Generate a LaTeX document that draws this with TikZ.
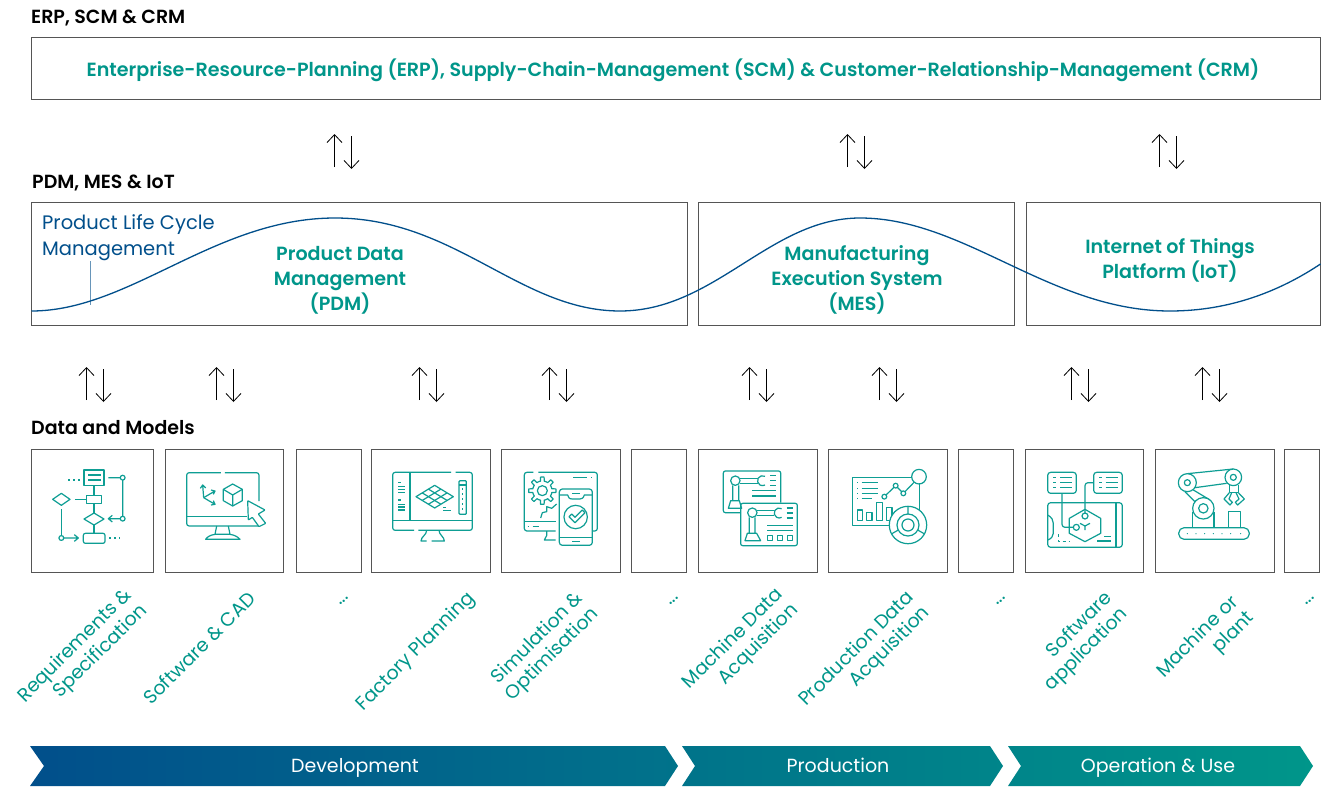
\documentclass[tikz,border=0pt]{standalone}
\usepackage{fontspec}
\setmainfont{Poppins}[BoldFont={Poppins SemiBold}]
\usetikzlibrary{arrows.meta}
\definecolor{tealc}{HTML}{00968A}
\definecolor{iconc}{HTML}{0E9E94}
\definecolor{bluec}{HTML}{014F8B}
\definecolor{framec}{HTML}{555555}
\tikzset{
 frame/.style={draw=framec,line width=0.8pt,fill=white},
 heading/.style={anchor=base west,font=\fontsize{19}{20}\selectfont\bfseries,text=black,inner sep=0pt},
 maintitle/.style={font=\fontsize{19.1}{25}\selectfont\bfseries,text=tealc,align=center,inner sep=0pt},
 plmtext/.style={anchor=north west,font=\fontsize{19.5}{26}\selectfont,text=bluec,align=left,inner sep=0pt},
 tilted/.style={font=\fontsize{19}{22}\selectfont,text=tealc,align=right,rotate=45,inner sep=0pt},
 barlabel/.style={anchor=base,font=\fontsize{19}{22}\selectfont,text=white,inner sep=0pt},
 flow/.style={draw=black,line width=0.8pt,-{Straight Barb[length=8pt,width=15pt,line width=0.8pt]}},
 ic/.style={draw=iconc,line width=1.2pt,line join=round},
 icd/.style={ic,dash pattern=on 1.5pt off 3.5pt},
 icon/.style={shift={#1},x=0.33333pt,y=-0.33333pt},
}
\begin{document}
\begin{tikzpicture}[x=1pt,y=-1pt]
\useasboundingbox (0,0) rectangle (1334,790);
% headings
\node[heading] (h1) at (31,23.5) {ERP, SCM \& CRM};
\node[heading] (h2) at (32,188.5) {PDM, MES \& IoT};
\node[heading] (h3) at (31,434.5) {Data and Models};
% top box
\draw[frame] (31.5,37) rectangle (1320.5,99);
\node[maintitle] (erp) at (673,70) {Enterprise-Resource-Planning (ERP), Supply-Chain-Management (SCM) \& Customer-Relationship-Management (CRM)};
% mid boxes
\draw[frame] (31.5,202.5) rectangle (687.5,325);
\draw[frame] (698.5,202.5) rectangle (1014,325);
\draw[frame] (1026,202.5) rectangle (1320.5,325);
% curve
\coordinate (tick) at (90.5,304.5);
\coordinate (ticktop) at (90.5,261);
\draw[draw=bluec!60,line width=1pt] (ticktop) -- (tick);
\draw[draw=bluec,line width=1.3pt] (31.5,311) .. controls (130,311) and (215,218) .. (335,218)
 .. controls (455,218) and (520,311) .. (620,311)
 .. controls (715,311) and (770,218) .. (860,218)
 .. controls (965,218) and (1050,311) .. (1170,311)
 .. controls (1230,311) and (1280,291) .. (1320.5,264);
\node[plmtext] (plm) at (42,214) {Product Life Cycle\\Management};
\node[maintitle] (pdm) at (340,280) {Product Data\\Management\\(PDM)};
\node[maintitle] (mes) at (857,280) {Manufacturing\\Execution System\\(MES)};
\node[maintitle] (iot) at (1170,260) {Internet of Things\\Platform (IoT)};
% double arrows
\foreach \n/\c/\t in {a/343/134,b/856/134,c/1168/134,d/95/367,e/225/367,f/428/367,g/558/367,h/758/367,i/888/367,j/1080/367,k/1211/367}{
 \pgfmathsetmacro\xu{\c-8.5}\pgfmathsetmacro\xd{\c+8.5}
 \pgfmathsetmacro\ta{\t+33}\pgfmathsetmacro\tb{\t+2}\pgfmathsetmacro\tc{\t+35}
 \coordinate (up\n s) at (\xu,\ta); \coordinate (up\n e) at (\xu,\t);
 \coordinate (dn\n s) at (\xd,\tb); \coordinate (dn\n e) at (\xd,\tc);
 \draw[flow] (up\n s) -- (up\n e);
 \draw[flow] (dn\n s) -- (dn\n e);
}
% data boxes
\foreach \a/\b in {31.3/153.5,165.7/283.5,296/361,371.3/490,501.7/620,631.7/686.7,698.3/817,828.3/947,958.7/1013.7,1025.3/1143.5,1155.3/1274,1284.3/1319.5}
 \draw[frame] (\a,449.3) rectangle (\b,572.7);
% ICON 1
\begin{scope}[icon={(20,440)}]
\draw[ic] (192,90) rectangle (252,136);
\draw[ic] (205,105)--(243,105) (205,120)--(243,120) (222,136)--(222,167);
\draw[icd] (145,120)--(182,120) (268,294)--(300,294);
\draw[ic] (200,167) rectangle (245,190);
\draw[ic] (165,178)--(200,178);
\draw[ic] (98,178)--(124,160)--(150,178)--(124,196)--cycle;
\draw[ic] (124,208)--(124,285);
\draw[ic] (124,294) circle[radius=2.4pt];
\draw[ic] (132,294)--(175,294) (163,284)--(175,294)--(163,304);
\draw[ic,rounded corners=2pt] (190,280) rectangle (255,310);
\draw[ic] (222,190)--(222,219) (222,255)--(222,280);
\draw[ic] (192,237)--(222,219)--(252,237)--(222,255)--cycle;
\draw[ic] (265,113)--(301,113) (308,120)--(308,229) (301,236)--(265,236) (277,226)--(265,236)--(277,246);
\draw[ic] (308,113) circle[radius=2.4pt] (308,236) circle[radius=2.4pt];
% ICON 2
\draw[ic,rounded corners=2.5pt] (603,98)--(500,98)--(500,258)--(717,258);
\draw[ic,rounded corners=2.5pt] (615,98)--(717,98)--(717,183);
\draw[ic] (500,230)--(682,230);
\draw[ic] (590,258)--(585,283) (625,258)--(630,283) (585,283)--(630,283);
\draw[ic] (585,283) .. controls (570,285) and (560,292) .. (557,298) -- (660,298) .. controls (655,292) and (645,285) .. (630,283);
\draw[ic] (551,173)--(548,135) (541,145)--(548,135)--(557,144);
\draw[ic] (551,173)--(585,153) (573,150)--(585,153)--(580,163);
\draw[ic] (551,173)--(585,193) (580,182)--(585,193)--(573,195);
\draw[ic] (638,132)--(667,148)--(667,182)--(638,198)--(610,182)--(610,148)--cycle;
\draw[ic] (610,148)--(638,165)--(667,148) (638,165)--(638,198);
\draw[ic,fill=white,rounded corners=0.6pt] (683,182)--(735,210)--(715,222)--(737,250)--(717,260)--(697,232)--(685,240)--cycle;
\end{scope}
% ICON 3
\begin{scope}[icon={(365,440)}]
\draw[ic,rounded corners=2.5pt] (258,97)--(83,97)--(83,271)--(147,271);
\draw[ic,rounded corners=2.5pt] (272,97)--(322,97)--(322,271)--(160,271);
\draw[ic] (135,97)--(135,241) (83,241)--(322,241);
\draw[ic] (100,127)--(107,127) (100,140)--(120,140) (100,149)--(120,149) (100,157)--(120,157);
\draw[ic] (100,180)--(107,180) (100,193)--(120,193) (100,201)--(120,201) (100,210)--(120,210);
\draw[ic] (209,136)--(265,170)--(209,204)--(153,170)--cycle;
\foreach \k in {1,2}{
 \draw[ic] ({209+56*\k/3},{136+34*\k/3})--({153+56*\k/3},{170+34*\k/3});
 \draw[ic] ({209-56*\k/3},{136+34*\k/3})--({265-56*\k/3},{170+34*\k/3});
}
\draw[ic] (235,202)--(243,202) (235,212)--(258,212);
\draw[ic,rounded corners=1pt] (282,122) rectangle (304,223);
\draw[ic] (282,135)--(304,135);
\draw[icd] (293,145)--(293,212);
\draw[ic] (185,271) .. controls (185,285) and (168,290) .. (168,303) -- (185,303);
\draw[ic] (200,303)--(238,303) .. controls (238,290) and (222,285) .. (222,271);
% ICON 4
\draw[ic,rounded corners=2.5pt] (505,97)--(478,97)--(478,273)--(572,273);
\draw[ic,rounded corners=2.5pt] (520,97)--(697,97)--(697,273)--(683,273);
\draw[ic] (478,245)--(572,245);
\draw[ic] (488,259)--(492,259) (503,259)--(522,259) (625,112)--(665,112) (678,112)--(681,112);
\draw[ic] (532,152) circle[radius=5pt];
\draw[ic] plot[samples=97,domain=0:360] ({532+(35+6*(cos(8*\x)>0?1:-1))*cos(\x)},{152+(35+6*(cos(8*\x)>0?1:-1))*sin(\x)});
\draw[ic] (527,234)--(532,218)--(545,215)--(545,200)--(560,205)--(575,192);
\draw[ic] (545,273)--(545,287) .. controls (545,292) and (538,294) .. (538,300)--(572,300);
\draw[ic,fill=white,rounded corners=3pt] (583,147) rectangle (682,316);
\draw[ic] (583,165)--(608,165) .. controls (612,178) and (618,177) .. (622,177) -- (645,177) .. controls (650,177) and (655,175) .. (658,165) -- (682,165);
\draw[ic] (622,160)--(645,160) (583,292)--(682,292) (622,304)--(645,304);
\draw[ic] (632,231) circle[radius=11.7pt];
\draw[ic] (612,230)--(620,222)--(630,232)--(652,210)--(660,218)--(630,248)--cycle;
\end{scope}
% ICON 5
\begin{scope}[icon={(690,440)}]
\draw[ic,rounded corners=2pt] (272,188)--(272,93)--(100,93)--(100,218)--(150,218);
\draw[ic,rounded corners=2pt] (152,190) rectangle (322,317);
\draw[ic] (136,122) circle[radius=4.7pt] (187,218) circle[radius=4.7pt];
\draw[ic] (150,116)--(203,116) (150,130)--(203,130) (200,212)--(253,212) (200,226)--(253,226);
\draw[ic] (225,109) arc[start angle=60,end angle=300,radius=5pt] (275,206) arc[start angle=60,end angle=300,radius=5pt];
\draw[ic] (128,136)--(128,182) (146,136)--(146,182) (122,182)--(148,182)--(155,205)--(115,205)--cycle;
\draw[ic] (178,232)--(178,280) (195,232)--(195,280) (172,280)--(200,280)--(212,302)--(165,302)--cycle;
\draw[ic] (240,107)--(258,107) (240,122)--(258,122) (240,137)--(258,137);
\draw[ic] (187,152)--(258,152) (187,168)--(258,168);
\draw[ic] (290,204)--(308,204) (290,219)--(308,219) (290,234)--(308,234);
\draw[ic] (232,256)--(308,256) (232,271)--(308,271);
\draw[ic] (232,287) rectangle (247,302) (262,287) rectangle (277,302) (292,287) rectangle (307,302);
% ICON 6
\draw[ic] (665,113)--(487,113)--(487,257)--(600,257) (688,130)--(688,210);
\draw[ic] (687,110) circle[radius=7.3pt];
\foreach \y in {128,145,160}{\draw[ic] (515,\y)--(565,\y) (501,\y)--(504,\y);}
\draw[ic] (515,175)--(547,175) (501,175)--(504,175);
\draw[ic] (583,170) circle[radius=2.4pt] (617,137) circle[radius=2.4pt] (640,160) circle[radius=2.4pt];
\draw[ic] (588,165)--(612,142) (622,142)--(635,155) (645,155)--(672,127);
\draw[ic] (502,210) rectangle (518,242) (530,218) rectangle (546,242) (560,188) rectangle (578,242) (590,203) rectangle (606,242);
\draw[ic,fill=white] (654,255) circle[radius=18.7pt];
\draw[ic] (654,255) circle[radius=11pt] (654,255) circle[radius=6pt];
\draw[ic] (654,199)--(654,222) (604,282)--(625,270) (704,282)--(683,270);
\end{scope}
% ICON 7
\begin{scope}[icon={(1015,440)}]
\draw[ic,rounded corners=3pt] (98,97) rectangle (184,160) (236,97) rectangle (322,160);
\foreach \y in {113,128,143}{\draw[ic] (114,\y)--(122,\y) (135,\y)--(170,\y) (252,\y)--(260,\y) (272,\y)--(308,\y);}
\draw[ic,rounded corners=3pt] (98,188) rectangle (322,322);
\draw[ic] (303,188)--(303,322);
\draw[ic] (98,225) .. controls (110,232) and (115,240) .. (115,250) -- (115,280) .. controls (115,290) and (108,296) .. (98,300);
\draw[ic,fill=white] (210,208)--(257,235)--(257,280)--(210,305)--(163,280)--(163,235)--cycle;
\draw[ic,rounded corners=3pt] (141,160)--(141,262)--(175,262);
\draw[ic,fill=white] (184,262) circle[radius=3pt] (210,228) circle[radius=3pt];
\draw[ic,rounded corners=3pt] (236,128)--(210,128)--(210,219);
\draw[ic] (210,258)--(195,250) (210,258)--(225,250) (210,258)--(210,270);
\draw[ic,dash pattern=on 3pt off 3pt] (130,282)--(130,305)--(165,305);
\draw[ic] (247,303)--(288,303) (268,290)--(288,290);
\end{scope}
% ICON 8
\begin{scope}[icon={(1015,440)}]
\draw[ic,rounded corners=5.5pt] (491,263) rectangle (703,298);
\foreach \x in {517,543,569,595,621,647,677}{\fill[iconc] (\x,281) circle[radius=0.6pt];}
\draw[ic] (517,101)--(655,87) (540,143)--(635,130);
\draw[ic] (535,150)--(585,180) (510,155)--(545,190);
\draw[ic] (533,215)--(533,263) (597,215)--(597,263);
\draw[ic,fill=white] (517,128) circle[radius=9pt];
\draw[ic] (517,128) circle[radius=3pt];
\draw[ic,fill=white] (655,112) circle[radius=8.3pt];
\draw[ic] (655,112) circle[radius=3pt];
\draw[ic,fill=white] (565,205) circle[radius=10.7pt];
\draw[ic] (565,205) circle[radius=4.7pt];
\draw[ic] (643,135)--(643,158)--(670,158)--(670,135);
\draw[ic] (643,158)--(627,177)--(645,195)--(652,187)--(642,177)--(650,158);
\draw[ic] (670,158)--(688,177)--(668,195)--(661,187)--(672,177)--(663,158);
\draw[ic] (640,263)--(640,215)--(677,215)--(677,263);
\end{scope}
% tilted labels
\node[tilted] (l1) at (83,654) {Requirements \&\\Specification};
\node[tilted] (l2) at (199,648) {Software \& CAD};
\node[tilted] (l3) at (344,601) {...};
\node[tilted] (l4) at (416,652) {Factory Planning};
\node[tilted] (l5) at (545,647) {Simulation \&\\Optimisation};
\node[tilted] (l6) at (674,601) {...};
\node[tilted] (l7) at (741,647) {Machine Data\\Acquisition};
\node[tilted] (l8) at (865,657) {Production Data\\Acquisition};
\node[tilted] (l9) at (1001,601) {...};
\node[tilted] (l10) at (1079,642) {Software\\application};
\node[tilted] (l11) at (1206,645) {Machine or\\plant};
\node[tilted] (l12) at (1310,601) {...};
% chevrons
\begin{scope}
\clip (30,746)--(665,746)--(678,766)--(665,786)--(30,786)--(44,766)--cycle
 (682,746)--(990,746)--(1003,766)--(990,786)--(682,786)--(695,766)--cycle
 (1008,746)--(1300,746)--(1313,766)--(1300,786)--(1008,786)--(1021,766)--cycle;
\shade[left color=bluec,right color=tealc] (30,746) rectangle (1313,786);
\end{scope}
\node[barlabel] (b1) at (355,772.5) {Development};
\node[barlabel] (b2) at (838,772.5) {Production};
\node[barlabel] (b3) at (1158,772.5) {Operation \& Use};
\end{tikzpicture}
\end{document}
